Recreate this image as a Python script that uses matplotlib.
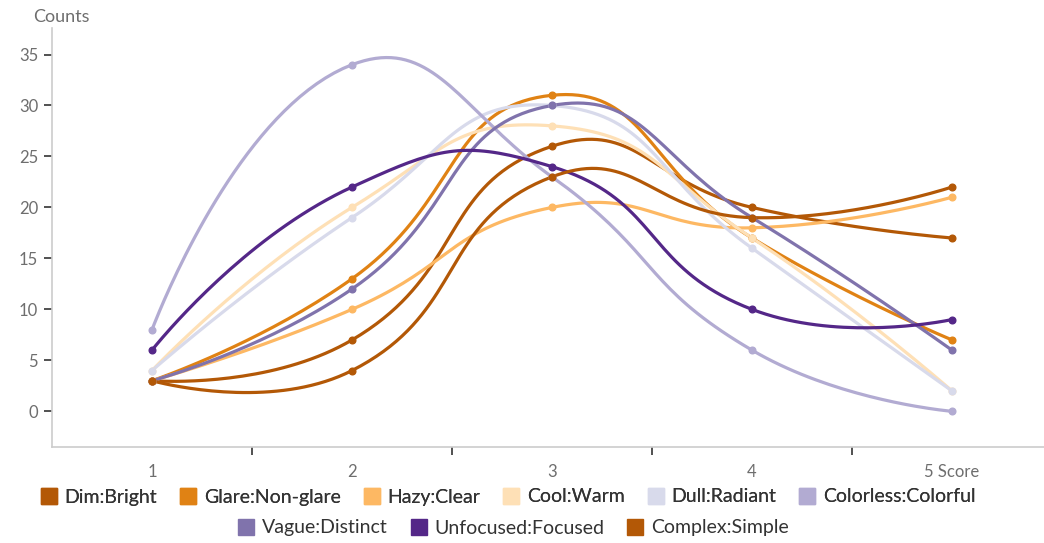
import numpy as np
import matplotlib
matplotlib.use("Agg")
from matplotlib import pyplot as plt
from matplotlib.lines import Line2D

plt.rcParams['font.family'] = ['Lato', 'DejaVu Sans']

scores = [1, 2, 3, 4, 5]
score_labels = ["1", "2", "3", "4", "5 Score"]

names = ["Dim:Bright", "Glare:Non-glare", "Hazy:Clear", "Cool:Warm", "Dull:Radiant",
         "Colorless:Colorful", "Vague:Distinct", "Unfocused:Focused", "Complex:Simple"]

dim_bright = [3, 7, 26, 20, 17]
glare_nonglare = [3, 13, 31, 17, 7]
hazy_clear = [3, 10, 20, 18, 21]
cool_warm = [4, 20, 28, 17, 2]
dull_radiant = [4, 19, 30, 16, 2]
colorless_colorful = [8, 34, 23, 6, 0]
vague_distinct = [3, 12, 30, 19, 6]
unfocused_focused = [6, 22, 24, 10, 9]
complex_simple = [3, 4, 23, 19, 22]

series = [dim_bright, glare_nonglare, hazy_clear, cool_warm, dull_radiant,
          colorless_colorful, vague_distinct, unfocused_focused, complex_simple]

colors = ["#b35806", "#e08214", "#fdb863", "#fee0b6", "#d8daeb",
          "#b2abd2", "#8073ac", "#542788", "#b35806"]


def smooth_curve(px, py, smooth=0.5, steps=40):
    # bezier smoothing in pixel space, same idea as echarts smooth lines
    pts = np.column_stack([px, py])
    n = len(pts)
    cp_in = pts.copy()
    cp_out = pts.copy()
    for i in range(1, n - 1):
        prev, cur, nxt = pts[i - 1], pts[i], pts[i + 1]
        v = nxt - prev
        d0 = np.hypot(*(cur - prev))
        d1 = np.hypot(*(nxt - cur))
        tot = d0 + d1
        cp_in[i] = cur - v * smooth * d0 / tot
        cp_out[i] = cur + v * smooth * d1 / tot
    t = np.linspace(0, 1, steps)[:, None]
    out = []
    for i in range(n - 1):
        p0, p1, p2, p3 = pts[i], cp_out[i], cp_in[i + 1], pts[i + 1]
        seg = ((1 - t) ** 3) * p0 + 3 * ((1 - t) ** 2) * t * p1 + 3 * (1 - t) * t ** 2 * p2 + t ** 3 * p3
        out.append(seg if i == 0 else seg[1:])
    return np.vstack(out)


fig = plt.figure(figsize=(10.44, 5.43), dpi=100)
ax = fig.add_axes([52 / 1044, 1 - 447 / 543, 1 - 52 / 1044, (447 - 28) / 543])
ax.set_xlim(0.5, 5.46)
ax.set_ylim(-3.5, 37.6)

for vals, col in zip(series, colors):
    disp = ax.transData.transform(np.column_stack([scores, vals]))
    curve = smooth_curve(disp[:, 0], disp[:, 1])
    data = ax.transData.inverted().transform(curve)
    ax.plot(data[:, 0], data[:, 1], color=col, lw=2.3, solid_capstyle='round', zorder=3)
    ax.plot(scores, vals, 'o', color=col, ms=4.8, zorder=4)

for side in ['top', 'right']:
    ax.spines[side].set_visible(False)
ax.spines['left'].set_color('#cccccc')
ax.spines['bottom'].set_color('#cccccc')
ax.spines['left'].set_linewidth(1.2)
ax.spines['bottom'].set_linewidth(1.2)

ax.set_yticks(range(0, 36, 5))
ax.tick_params(axis='y', length=6, width=1.2, color='#333333', labelcolor='#6e6e6e',
               labelsize=12, pad=4)

ax.set_xticks(scores)
ax.set_xticklabels(score_labels)
ax.tick_params(axis='x', which='major', length=0, labelcolor='#6e6e6e', labelsize=12, pad=12)
ax.set_xticks([1.5, 2.5, 3.5, 4.5], minor=True)
ax.tick_params(axis='x', which='minor', length=6, width=1.2, color='#333333')

fig.text(33 / 1044, 1 - 17 / 543, "Counts", ha='left', va='center', color='#6e6e6e', fontsize=13)

handles = [Line2D([], [], marker='s', ls='', color=c, ms=12) for c in colors]
leg1 = fig.legend(handles[:6], names[:6], loc='center', bbox_to_anchor=(0.486, 1 - 497 / 543),
                  ncol=6, frameon=False, fontsize=14, handletextpad=0.3, columnspacing=1.1,
                  handlelength=1.0, labelcolor='#333333')
fig.legend(handles[6:], names[6:], loc='center', bbox_to_anchor=(0.491, 1 - 528 / 543),
           ncol=3, frameon=False, fontsize=14, handletextpad=0.3, columnspacing=1.1,
           handlelength=1.0, labelcolor='#333333')
fig.add_artist(leg1)

fig.savefig("out.png", dpi=100)
